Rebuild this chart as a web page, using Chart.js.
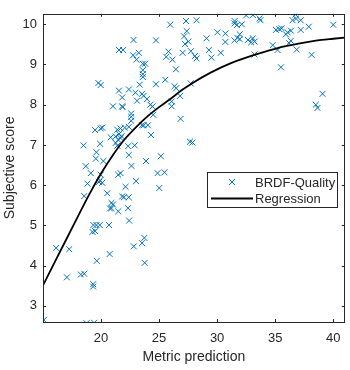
<!DOCTYPE html>
<html>
<head>
<meta charset="utf-8">
<script src="https://cdn.jsdelivr.net/npm/chart.js@4.4.1/dist/chart.umd.min.js"></script>
<style>
  html, body { margin: 0; padding: 0; background: #fff; }
  canvas { display: block; }
</style>
</head>
<body>
<canvas id="chart" width="350" height="370"></canvas>
<script>
// values
const xTicks = [20, 25, 30, 35, 40];
const yTicks = [3, 4, 5, 6, 7, 8, 9, 10];

const qualityPoints = [
  [22.8, 9.61], [21.55, 9.36], [21.9, 9.36], [22.76, 9.23], [23.25, 9.29], [23.05, 9.12],
  [23.6, 9.02], [23.8, 9.02], [23.6, 8.86], [23.6, 8.76], [23.6, 8.69], [19.77, 8.54],
  [19.97, 8.49], [21.54, 8.35], [22.4, 8.38], [22.96, 8.30], [23.33, 8.5], [21.82, 8.18],
  [23.1, 8.1], [23.53, 8.27], [23.67, 8.22], [21.03, 7.96], [21.82, 7.96], [21.86, 7.94],
  [22.6, 7.78], [22.6, 7.7], [22.6, 7.6],
  [25.96, 9.99], [27.32, 10.08], [28.23, 10.1], [31.51, 10.08], [31.51, 10.02], [31.7, 9.98],
  [27.38, 9.83], [24.73, 9.6], [27.15, 9.7], [27.52, 9.57], [27.24, 9.51], [29.09, 9.65],
  [30.03, 9.8], [30.71, 9.77], [30.71, 9.56], [31.5, 9.6], [31.75, 9.66], [31.95, 9.63],
  [31.95, 9.75], [25.81, 9.32], [25.62, 9.19], [26.15, 9.12], [27.03, 9.29], [27.74, 9.33],
  [28.08, 9.21], [28.23, 9.15], [29.29, 9.36], [29.51, 9.17], [30.31, 9.29], [26.45, 8.88],
  [24.73, 8.51], [25.53, 8.62], [26.33, 8.46], [26.47, 8.41], [26.81, 8.22], [27.72, 8.53],
  [23.96, 8.14], [24.25, 8.0], [24.44, 7.96], [24.5, 7.75], [26.09, 8.08], [26.09, 7.96],
  [26.85, 7.65],
  [32.5, 10.22], [33.08, 10.23], [33.65, 10.14], [33.73, 10.1], [32.12, 10.0], [32.65, 9.61],
  [32.93, 9.55], [33.08, 9.65], [33.23, 9.57], [33.22, 9.25], [34.79, 9.48], [35.21, 9.36],
  [35.07, 9.86], [35.36, 9.88], [35.56, 9.9], [35.93, 9.75], [36.07, 9.8], [36.36, 9.84],
  [36.2, 9.53], [36.35, 9.59], [35.5, 8.93], [36.5, 10.1], [36.8, 10.14], [36.75, 10.24],
  [37.2, 10.1], [37.2, 9.86], [36.86, 9.37], [37.9, 9.94], [38.14, 9.24], [40.0, 9.99],
  [39.08, 8.27], [38.5, 8.0], [38.65, 7.92], [27.66, 7.08], [27.88, 7.06],
  [23.53, 7.49], [19.49, 7.37], [19.97, 7.41], [20.1, 7.43], [21.4, 7.38], [21.68, 7.41],
  [22.05, 7.43], [22.39, 7.45], [21.26, 7.21], [21.54, 7.27], [21.68, 7.17], [21.48, 7.13],
  [21.77, 7.22], [20.83, 7.19], [19.92, 7.03], [18.49, 6.99], [21.26, 7.05], [21.4, 6.98],
  [22.33, 6.97], [22.9, 6.99], [19.6, 6.82], [19.55, 6.66], [20.2, 6.6], [22.39, 6.75],
  [18.69, 6.47], [19.12, 6.3], [19.97, 6.26], [21.68, 6.3], [21.48, 6.26], [22.62, 6.48],
  [18.83, 6.04], [19.92, 6.12], [20.1, 6.06], [19.82, 6.08], [22.11, 5.96], [23.02, 6.1],
  [20.54, 5.8], [18.55, 5.73], [21.82, 5.72], [21.97, 5.7], [20.9, 5.56], [21.03, 5.52],
  [22.39, 5.7], [20.77, 5.42], [20.9, 5.43], [21.48, 5.35], [22.33, 5.43], [22.42, 5.12],
  [23.67, 7.49], [24.04, 7.49], [24.3, 7.25], [25.15, 6.72], [23.87, 6.6], [24.87, 6.3],
  [25.47, 6.32], [25.02, 5.93],
  [19.34, 5.01], [19.6, 5.01], [19.89, 5.01], [19.49, 4.86], [19.26, 4.84], [20.68, 5.01],
  [16.13, 4.44], [17.26, 4.41], [20.74, 4.29], [19.63, 4.12], [22.82, 4.48], [23.53, 4.56],
  [23.73, 4.69], [23.76, 4.07], [17.06, 3.71], [18.26, 3.78], [18.55, 3.8], [19.32, 3.54],
  [19.32, 3.48], [15.07, 2.65], [18.75, 2.57], [19.4, 2.58]
];

const curveX = [15, 16, 17, 18, 19, 20, 21, 22, 23, 24, 25, 26, 27, 28,
                29, 30, 31, 32, 33, 34, 35, 36, 37, 38, 39, 40, 41];
const curveY = [3.51, 4.08, 4.65, 5.22, 5.78, 6.29, 6.74, 7.13, 7.44, 7.71, 7.94, 8.15, 8.37, 8.56,
                8.73, 8.88, 9.01, 9.12, 9.22, 9.31, 9.39, 9.46, 9.52, 9.57, 9.61, 9.64, 9.67];

const blue = '#0072BD';
const ink = '#262626';
const family = '"Liberation Sans", Arial, Helvetica, sans-serif';

// box, inward ticks on all four sides, and the legend inside the plot
const framePlugin = {
  id: 'frame',
  afterDraw(chart) {
    const { ctx, chartArea: a, scales: { x, y } } = chart;
    ctx.save();
    ctx.strokeStyle = ink;
    ctx.lineWidth = 1;
    ctx.beginPath();
    xTicks.forEach(v => {
      const px = Math.round(x.getPixelForValue(v)) + 0.5;
      ctx.moveTo(px, a.bottom); ctx.lineTo(px, a.bottom - 3);
      ctx.moveTo(px, a.top); ctx.lineTo(px, a.top + 3);
    });
    yTicks.forEach(v => {
      const py = Math.round(y.getPixelForValue(v)) + 0.5;
      ctx.moveTo(a.left, py); ctx.lineTo(a.left + 3, py);
      ctx.moveTo(a.right, py); ctx.lineTo(a.right - 3, py);
    });
    ctx.stroke();
    ctx.strokeRect(Math.round(a.left) + 0.5, Math.round(a.top) + 0.5,
                   Math.round(a.right - a.left) - 1, Math.round(a.bottom - a.top));

    // legend
    const lx = 207.5, ly = 172.5, lw = 130, lh = 35;
    ctx.fillStyle = '#fff';
    ctx.fillRect(lx, ly, lw, lh);
    ctx.strokeRect(lx, ly, lw, lh);

    ctx.strokeStyle = blue;
    ctx.beginPath();
    ctx.moveTo(229, 179); ctx.lineTo(235, 185);
    ctx.moveTo(235, 179); ctx.lineTo(229, 185);
    ctx.stroke();

    ctx.strokeStyle = '#000';
    ctx.lineWidth = 1.8;
    ctx.beginPath();
    ctx.moveTo(211, 198.5); ctx.lineTo(253, 198.5);
    ctx.stroke();

    ctx.fillStyle = ink;
    ctx.font = '13px ' + family;
    ctx.textBaseline = 'middle';
    ctx.textAlign = 'left';
    ctx.fillText(chart.data.datasets[0].label, 255, 183);
    ctx.fillText(chart.data.datasets[1].label, 255, 199);
    ctx.restore();
  }
};

new Chart(document.getElementById('chart'), {
  type: 'scatter',
  data: {
    datasets: [
      {
        label: 'BRDF-Quality',
        data: qualityPoints.map(([x, y]) => ({ x, y })),
        pointStyle: 'crossRot',
        pointRadius: 4.2,
        pointBorderWidth: 1,
        borderColor: blue,
        backgroundColor: blue,
        clip: 0,
        order: 2
      },
      {
        label: 'Regression',
        data: curveX.map((x, i) => ({ x, y: curveY[i] })),
        showLine: true,
        borderColor: '#000',
        borderWidth: 1.8,
        pointRadius: 0,
        cubicInterpolationMode: 'monotone',
        order: 1
      }
    ]
  },
  options: {
    responsive: false,
    animation: false,
    devicePixelRatio: 1,
    layout: { padding: { top: 5, right: 3, left: 0, bottom: 0 } },
    plugins: { legend: { display: false }, tooltip: { enabled: false } },
    scales: {
      x: {
        type: 'linear', min: 15, max: 41,
        grid: { display: false, drawTicks: false },
        border: { display: false },
        afterBuildTicks: s => { s.ticks = xTicks.map(v => ({ value: v })); },
        afterFit: s => { s.height = 48; },
        ticks: { color: ink, font: { family, size: 13 }, padding: 9 },
        title: { display: true, text: 'Metric prediction', color: ink,
                 font: { family, size: 14 }, padding: { bottom: 4 } }
      },
      y: {
        type: 'linear', min: 2.6, max: 10.26,
        grid: { display: false, drawTicks: false },
        border: { display: false },
        afterBuildTicks: s => { s.ticks = yTicks.map(v => ({ value: v })); },
        afterFit: s => { s.width = 43; },
        ticks: { color: ink, font: { family, size: 13 }, padding: 6 },
        title: { display: true, text: 'Subjective score', color: ink,
                 font: { family, size: 14 }, padding: { top: 2 } }
      }
    }
  },
  plugins: [framePlugin]
});
</script>
</body>
</html>
